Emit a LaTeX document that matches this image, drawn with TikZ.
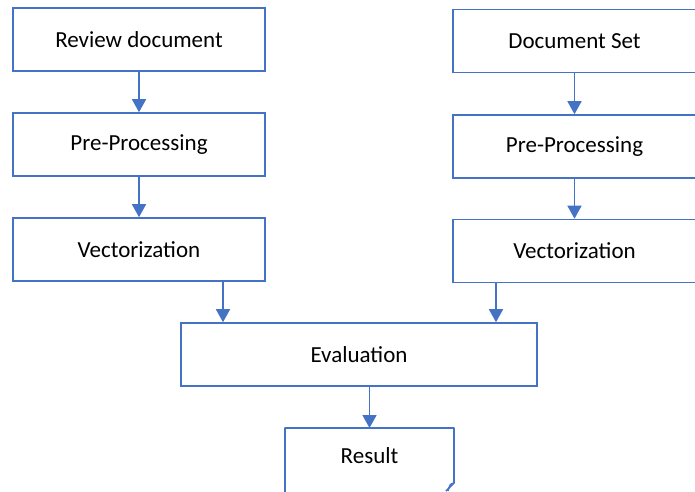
\documentclass[tikz,border=0pt]{standalone}
\usepackage{fontspec}
\setmainfont{Carlito}
\usetikzlibrary{arrows.meta}
\definecolor{boxblue}{HTML}{4472C4}
\tikzset{
  stepbox/.style={draw=boxblue, line width=1.6pt, fill=white, minimum height=63pt, inner sep=0pt, font=\fontsize{23}{27}\selectfont},
  flow/.style={draw=boxblue, line width=1.6pt, -{Triangle[width=14pt,length=13pt]}}
}
\begin{document}
\begin{tikzpicture}[x=1pt, y=-1pt]
            \useasboundingbox (0,0) rectangle (695,491);
            % left column
            \node[stepbox, minimum width=252pt] (review) at (139, 39.5) {Review document};
            \node[stepbox, minimum width=252pt] (prel) at (139, 144.5) {Pre-Processing};
            \node[stepbox, minimum width=252pt] (vecl) at (139, 249.5) {Vectorization};
            % right column
            \node[stepbox, minimum width=243pt] (docset) at (574.5, 41) {Document Set};
            \node[stepbox, minimum width=243pt] (prer) at (574.5, 146.5) {Pre-Processing};
            \node[stepbox, minimum width=243pt] (vecr) at (574.5, 251) {Vectorization};
            % evaluation
            \node[stepbox, minimum width=356pt] (eval) at (359, 354.5) {Evaluation};
            % result (document shape, cut at the bottom)
            \begin{scope}
            \clip (0,0) rectangle (695,491);
            \draw[boxblue, line width=1.6pt, line join=round] (285,500) -- (285,428) -- (454,428) -- (454,483) -- (446,491);
            \draw[boxblue, line width=1.4pt] (454,483) .. controls (450,484) .. (448,491);
            \end{scope}
            \node[font=\fontsize{23}{27}\selectfont] (result) at (369.5, 456) {Result};
            \coordinate (resulttop) at (369.5, 428);
            % arrows in the columns
            \draw[flow] (review) -- (prel);
            \draw[flow] (prel) -- (vecl);
            \draw[flow] (docset) -- (prer);
            \draw[flow] (prer) -- (vecr);
            % arrows into evaluation
            \draw[flow] (vecl.south -| 223,0) -- (eval.north -| 223,0);
            \draw[flow] (vecr.south -| 496,0) -- (eval.north -| 496,0);
            % arrow to result
            \draw[flow] (eval.south -| resulttop) -- (resulttop);
        \end{tikzpicture}
\end{document}
